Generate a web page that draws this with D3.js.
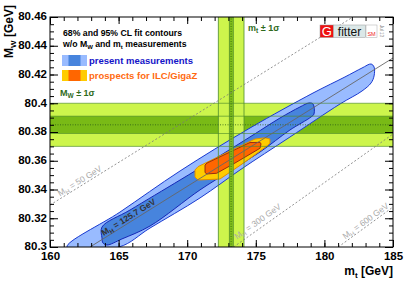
<!DOCTYPE html>
<html>
<head>
<meta charset="utf-8">
<script src="https://cdn.jsdelivr.net/npm/d3@7"></script>
<style>
  body { margin: 0; background: #fff; }
  text { font-family: "Liberation Sans", Arial, sans-serif; }
</style>
</head>
<body>
<div id="chart"></div>
<script>
// axis ranges and ticks
const mtDomain = [160, 185]
const mwDomain = [80.3, 80.46]
const mtTicks = [160, 165, 170, 175, 180, 185]
const mtMinorTicks = d3.range(160, 185.01, 1)
const mwTicks = [80.3, 80.32, 80.34, 80.36, 80.38, 80.4, 80.42, 80.44, 80.46]
const mwTickLabels = ['80.3', '80.32', '80.34', '80.36', '80.38', '80.4', '80.42', '80.44', '80.46']
const mwMinorTicks = d3.range(80.3, 80.4601, 0.005)

// measurement bands (1 sigma)
const mwBand = [80.370, 80.400]
const mwBandIlc = [80.379, 80.391]
const mwCentral = 80.385
const mtBand = [172.27, 174.14]
const mtBandIlc = [173.07, 173.36]
const mtCentral = 173.2

// fit contours [mt, MW]
const present95 = [
  [161.24, 80.300], [165.10, 80.3243], [169.48, 80.3529], [174.58, 80.3828],
  [179.17, 80.4071], [181.50, 80.4183], [182.74, 80.4245], [183.40, 80.4273],
  [183.62, 80.4252], [183.62, 80.4190], [183.40, 80.4141], [182.74, 80.4085],
  [181.14, 80.3995], [177.49, 80.3765], [173.85, 80.3536], [170.93, 80.3341],
  [167.29, 80.3132], [165.03, 80.300]
]
const present68 = [
  [163.79, 80.3139], [165.83, 80.3257], [169.48, 80.3466], [171.88, 80.3605],
  [174.80, 80.3779], [176.76, 80.3897], [178.22, 80.3974], [178.88, 80.4002],
  [179.17, 80.3995], [179.24, 80.3925], [179.02, 80.3904], [177.49, 80.3814],
  [175.31, 80.3661], [173.12, 80.3529], [170.93, 80.3397], [167.29, 80.3146],
  [165.24, 80.3056], [164.15, 80.3014], [163.86, 80.3028], [163.79, 80.3063]
]
const ilc95 = [
  [170.57, 80.3536], [170.79, 80.3559], [173.12, 80.3668], [174.94, 80.3751],
  [175.67, 80.3760], [176.03, 80.3751], [176.03, 80.3723], [175.82, 80.3703],
  [174.21, 80.3591], [172.39, 80.3473], [170.79, 80.3466], [170.57, 80.3487]
]
const ilc68 = [
  [171.30, 80.3570], [171.44, 80.3584], [174.58, 80.3727], [175.31, 80.3728],
  [175.38, 80.3717], [175.31, 80.3687], [173.48, 80.3584], [172.15, 80.3513],
  [171.44, 80.3508], [171.30, 80.3518]
]

// SM predictions for fixed MH
const mhValues = ['50', '125.7', '300', '600']
const mhLines = [
  [[160, 80.3292], [182.08, 80.46]],
  [[162.92, 80.3], [185, 80.4315]],
  [[173.38, 80.3], [185, 80.3786]],
  [[181.01, 80.3], [185, 80.3278]]
]
const mhLabelAt = [160.8, 164.0, 173.8, 181.6]
const mhLabelLift = [2, 2, 4, 2]

const W = 415, H = 281
const x = d3.scaleLinear().domain(mtDomain).range([50, 393])
const y = d3.scaleLinear().domain(mwDomain).range([247, 17])

const lightGreen = '#cdf54c'
const darkGreen = '#79ba16'
const bandEdge = '#4b8a2c'

const svg = d3.select('#chart').append('svg').attr('width', W).attr('height', H)

svg.append('defs').append('clipPath').attr('id', 'clip')
  .append('rect').attr('x', x(160)).attr('y', y(80.46))
  .attr('width', x(185) - x(160)).attr('height', y(80.3) - y(80.46))

const plot = svg.append('g').attr('clip-path', 'url(#clip)')

/** horizontal / vertical bands */
function hBand(r, fill) {
  plot.append('rect').attr('x', x(160)).attr('width', x(185) - x(160))
    .attr('y', y(r[1])).attr('height', y(r[0]) - y(r[1])).attr('fill', fill)
}
function vBand(r, fill) {
  return plot.append('rect').attr('x', x(r[0])).attr('width', x(r[1]) - x(r[0]))
    .attr('y', y(80.46)).attr('height', y(80.3) - y(80.46)).attr('fill', fill)
}
hBand(mwBand, lightGreen)
hBand(mwBandIlc, darkGreen)
vBand(mtBand, lightGreen)

/** contours */
const smooth = d3.line().x(d => x(d[0])).y(d => y(d[1])).curve(d3.curveCatmullRomClosed.alpha(0.5))
const poly = d3.line().x(d => x(d[0])).y(d => y(d[1])).curve(d3.curveLinearClosed)

plot.append('path').attr('d', smooth(present95)).attr('fill', '#99bbff').attr('stroke', '#1a3ad0').attr('stroke-width', 1)
plot.append('path').attr('d', smooth(present68)).attr('fill', '#4784dd').attr('stroke', '#1428b8').attr('stroke-width', 1)
plot.append('path').attr('d', poly(ilc95)).attr('fill', '#ffcc00').attr('stroke', '#e09000').attr('stroke-width', 1)
plot.append('path').attr('d', poly(ilc68)).attr('fill', '#ff6600').attr('stroke', '#9a2a10').attr('stroke-width', 1)

/** mt ILC stripe over contours */
vBand(mtBandIlc, darkGreen).attr('stroke', bandEdge).attr('stroke-width', 0.8).attr('opacity', 0.9)

/** band edges */
mwBand.concat(mwBandIlc).forEach(v => {
  plot.append('line').attr('x1', x(160)).attr('x2', x(185)).attr('y1', y(v)).attr('y2', y(v))
    .attr('stroke', bandEdge).attr('stroke-width', 0.8).attr('opacity', 0.8)
})
mtBand.forEach(v => {
  plot.append('line').attr('x1', x(v)).attr('x2', x(v)).attr('y1', y(80.3)).attr('y2', y(80.46))
    .attr('stroke', bandEdge).attr('stroke-width', 0.8)
})
plot.append('line').attr('x1', x(160)).attr('x2', x(185)).attr('y1', y(mwCentral)).attr('y2', y(mwCentral))
  .attr('stroke', '#2c5e14').attr('stroke-width', 0.8).attr('stroke-dasharray', '1,1.5')
plot.append('line').attr('x1', x(mtCentral)).attr('x2', x(mtCentral)).attr('y1', y(80.3)).attr('y2', y(80.46))
  .attr('stroke', '#2c5e14').attr('stroke-width', 0.8).attr('stroke-dasharray', '1,1.5')

/** MH lines */
mhLines.forEach((pts, i) => {
  const central = mhValues[i] === '125.7'
  plot.append('line')
    .attr('x1', x(pts[0][0])).attr('y1', y(pts[0][1]))
    .attr('x2', x(pts[1][0])).attr('y2', y(pts[1][1]))
    .attr('stroke', central ? '#666' : '#777')
    .attr('stroke-width', central ? 0.9 : 0.8)
    .attr('stroke-dasharray', central ? null : '2,2')

  const px0 = x(pts[0][0]), py0 = y(pts[0][1]), px1 = x(pts[1][0]), py1 = y(pts[1][1])
  const angle = Math.atan2(py1 - py0, px1 - px0) * 180 / Math.PI
  const t = (mhLabelAt[i] - pts[0][0]) / (pts[1][0] - pts[0][0])
  const lx = px0 + t * (px1 - px0), ly = py0 + t * (py1 - py0)
  const label = plot.append('text')
    .attr('transform', `translate(${lx},${ly}) rotate(${angle}) translate(0,${-mhLabelLift[i]})`)
    .attr('font-size', 8.5).attr('font-weight', central ? 'bold' : 'normal')
    .attr('fill', central ? '#333' : '#aaa')
  label.append('tspan').text('M')
  label.append('tspan').attr('font-size', 6).attr('dy', 2).text('H')
  label.append('tspan').attr('dy', -2).text(` = ${mhValues[i]} GeV`)
})

/** axes and frame */
function styleAxis(g) {
  g.select('.domain').remove()
  g.selectAll('.tick line').attr('stroke', '#000').attr('stroke-width', 1)
  g.selectAll('.tick text').attr('font-family', '"Liberation Sans", Arial, sans-serif')
    .attr('font-size', 11.5).attr('font-weight', 'bold').attr('fill', '#000')
}
svg.append('g').attr('transform', `translate(0,${y(80.3)})`)
  .call(d3.axisBottom(x).tickValues(mtTicks).tickSize(-7).tickPadding(5).tickFormat(d3.format('d'))).call(styleAxis)
svg.append('g').attr('transform', `translate(0,${y(80.3)})`)
  .call(d3.axisBottom(x).tickValues(mtMinorTicks).tickSize(-4).tickFormat('')).call(styleAxis)
svg.append('g').attr('transform', `translate(0,${y(80.46)})`)
  .call(d3.axisTop(x).tickValues(mtTicks).tickSize(-7).tickFormat('')).call(styleAxis)
svg.append('g').attr('transform', `translate(0,${y(80.46)})`)
  .call(d3.axisTop(x).tickValues(mtMinorTicks).tickSize(-4).tickFormat('')).call(styleAxis)
svg.append('g').attr('transform', `translate(${x(160)},0)`)
  .call(d3.axisLeft(y).tickValues(mwTicks).tickSize(-8).tickPadding(3).tickFormat((d, i) => mwTickLabels[i])).call(styleAxis)
  .selectAll('.tick text').attr('dy', '0.25em')
svg.append('g').attr('transform', `translate(${x(160)},0)`)
  .call(d3.axisLeft(y).tickValues(mwMinorTicks).tickSize(-4).tickFormat('')).call(styleAxis)
svg.append('g').attr('transform', `translate(${x(185)},0)`)
  .call(d3.axisRight(y).tickValues(mwTicks).tickSize(-8).tickFormat('')).call(styleAxis)
svg.append('g').attr('transform', `translate(${x(185)},0)`)
  .call(d3.axisRight(y).tickValues(mwMinorTicks).tickSize(-4).tickFormat('')).call(styleAxis)

svg.append('rect').attr('x', x(160)).attr('y', y(80.46))
  .attr('width', x(185) - x(160)).attr('height', y(80.3) - y(80.46))
  .attr('fill', 'none').attr('stroke', '#000').attr('stroke-width', 1)

/** axis titles */
const xTitle = svg.append('text').attr('x', x(185)).attr('y', 275).attr('text-anchor', 'end')
  .attr('font-size', 12).attr('font-weight', 'bold')
xTitle.append('tspan').text('m')
xTitle.append('tspan').attr('font-size', 8).attr('dy', 3).text('t')
xTitle.append('tspan').attr('dy', -3).text(' [GeV]')

const yTitle = svg.append('text').attr('transform', `translate(13,${y(80.46) - 12}) rotate(-90)`)
  .attr('text-anchor', 'end').attr('font-size', 12).attr('font-weight', 'bold')
yTitle.append('tspan').text('M')
yTitle.append('tspan').attr('font-size', 8).attr('dy', 3).text('W')
yTitle.append('tspan').attr('dy', -3).text(' [GeV]')

/** legend */
svg.append('text').attr('x', 63).attr('y', 36).attr('font-size', 8.7).attr('font-weight', 'bold')
  .text('68% and 95% CL fit contours')
const l2 = svg.append('text').attr('x', 63).attr('y', 47).attr('font-size', 8.7).attr('font-weight', 'bold')
l2.append('tspan').text('w/o M')
l2.append('tspan').attr('font-size', 6).attr('dy', 2).text('W')
l2.append('tspan').attr('dy', -2).text(' and m')
l2.append('tspan').attr('font-size', 6).attr('dy', 2).text('t')
l2.append('tspan').attr('dy', -2).text(' measurements')

const legendItems = [
  { outer: '#99bbff', inner: '#4784dd', text: 'present measurements', color: '#1414c8', y: 55 },
  { outer: '#ffcc00', inner: '#ff6600', text: 'prospects for ILC/GigaZ', color: '#ff6a10', y: 70 }
]
legendItems.forEach(d => {
  svg.append('rect').attr('x', 62).attr('y', d.y).attr('width', 25).attr('height', 11).attr('fill', d.outer)
  svg.append('rect').attr('x', 68.5).attr('y', d.y).attr('width', 12).attr('height', 11).attr('fill', d.inner)
  svg.append('text').attr('x', 89).attr('y', d.y + 9).attr('font-size', 9.5).attr('font-weight', 'bold')
    .attr('fill', d.color).text(d.text)
})

const mwLab = svg.append('text').attr('x', 60).attr('y', 96).attr('font-size', 9).attr('font-weight', 'bold').attr('fill', '#2f6a1c')
mwLab.append('tspan').text('M')
mwLab.append('tspan').attr('font-size', 6.5).attr('dy', 2).text('W')
mwLab.append('tspan').attr('dy', -2).text(' ± 1σ')
const mtLab = svg.append('text').attr('x', 248).attr('y', 31).attr('font-size', 9).attr('font-weight', 'bold').attr('fill', '#2f6a1c')
mtLab.append('tspan').text('m')
mtLab.append('tspan').attr('font-size', 6.5).attr('dy', 2).text('t')
mtLab.append('tspan').attr('dy', -2).text(' ± 1σ')

/** Gfitter logo */
const logo = svg.append('g').attr('transform', 'translate(320,25)')
logo.append('rect').attr('width', 13.5).attr('height', 12.5).attr('fill', '#ee1111').attr('stroke', '#999').attr('stroke-width', 0.5)
logo.append('text').attr('x', 6.8).attr('y', 11).attr('text-anchor', 'middle').attr('font-size', 13).attr('fill', '#fff').text('G')
logo.append('rect').attr('x', 13.5).attr('width', 32).attr('height', 12.5).attr('fill', '#dbe8e8').attr('stroke', '#999').attr('stroke-width', 0.5)
logo.append('text').attr('x', 29.5).attr('y', 10.5).attr('text-anchor', 'middle').attr('font-size', 12).attr('fill', '#111').text('fitter')
logo.append('rect').attr('x', 46).attr('width', 11).attr('height', 12.5).attr('fill', '#fff').attr('stroke', '#aaa').attr('stroke-width', 0.5)
logo.append('text').attr('x', 51.5).attr('y', 11).attr('text-anchor', 'middle').attr('font-size', 5.5).attr('fill', '#ee2222').text('SM')
logo.append('text').attr('transform', 'translate(59.5,0) rotate(90)').attr('font-size', 4.5).attr('fill', '#888').text('Jul 13')
</script>
</body>
</html>
